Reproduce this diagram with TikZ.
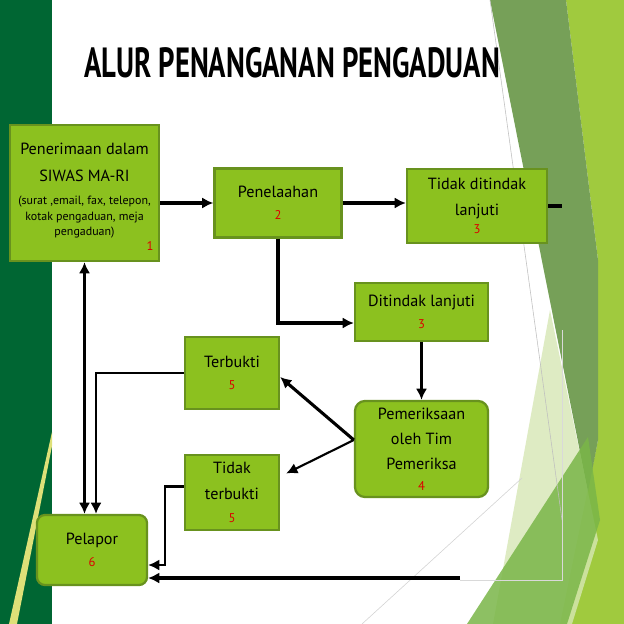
\documentclass[tikz,border=0pt]{standalone}
\usepackage{fontspec}
\setmainfont{PT Sans}
\usetikzlibrary{arrows.meta,positioning}

\definecolor{boxfill}{RGB}{140,193,31}
\definecolor{boxedge}{RGB}{104,146,30}
\definecolor{leftbar}{RGB}{0,102,51}
\definecolor{stripe}{RGB}{222,224,120}
\definecolor{numred}{RGB}{220,0,0}
\definecolor{bandgreen}{RGB}{118,160,88}
\definecolor{lime}{RGB}{160,202,62}
\definecolor{palegreen}{RGB}{214,231,180}
\definecolor{midgreen}{RGB}{122,182,72}

\newcommand{\nr}[1]{{\color{numred}\fontsize{9}{11}\selectfont #1}}
\newcommand{\sm}[1]{{\fontsize{8.5}{11}\selectfont #1}}

\begin{document}
\begin{tikzpicture}[x=0.025cm,y=-0.025cm,>=Latex,
  box/.style={draw=boxedge,fill=boxfill,line width=1.6pt,align=center,inner sep=2pt,font=\fontsize{11.5}{18}\selectfont},
  num/.style={text=numred,font=\fontsize{9}{11}\selectfont,inner sep=0pt},
  arr/.style={-{Latex[length=2.8mm,width=2.8mm]},line width=2.2pt},
  arrboth/.style={{Latex[length=2.8mm,width=2.8mm]}-{Latex[length=2.8mm,width=2.8mm]},line width=1.8pt}]
% slide background
\fill[white] (0,0) rectangle (624,624);
\useasboundingbox (0,0) rectangle (624,624);
\fill[leftbar] (0,0) rectangle (52,624);
\fill[stripe] (52,432) -- (52,446) -- (17,624) -- (9,624) -- cycle;
\fill[lime] (566,0) -- (624,0) -- (624,624) -- (560,624) -- (598,440) -- (598,260) -- cycle;
\fill[bandgreen] (490,0) -- (566,0) -- (598,260) -- (598,440) -- (588,492) -- cycle;
\fill[palegreen,opacity=.8] (493,624) -- (550,310) -- (598,540) -- (572,624) -- cycle;
\fill[midgreen,opacity=.85] (467,624) -- (588,437) -- (600,520) -- (567,624) -- cycle;
\draw[gray!50,thin] (490,0) -- (562,520);
\draw[gray!30,thin] (460,580) -- (562,580) -- (562,330);
\draw[gray!35,thin] (362,624) -- (522,478);

\node[font=\fontsize{30}{30}\selectfont\bfseries] (title) at (292,63) {\scalebox{0.68}[1]{ALUR PENANGANAN PENGADUAN}};

% boxes
\node[box,minimum width=3.725cm,minimum height=3.4cm] (b1) at (84.5,193) {Penerimaan dalam\\[1pt]SIWAS MA-RI\\[-1.6pt]\sm{(surat ,email, fax, telepon,}\\[-7pt]\sm{kotak pengaduan, meja}\\[-7pt]\sm{pengaduan)}\\[-13pt]\mbox{}};
\node[num] (n1) at (150,246) {1};
\node[box,minimum width=3.175cm,minimum height=1.725cm] (b2) at (278,203) {Penelaahan\\[-2pt]\nr{2}};
\node[box,minimum width=3.5cm,minimum height=1.85cm] (b3a) at (477,206) {Tidak ditindak\\lanjuti\\[-5pt]\nr{3}};
\node[box,minimum width=3.325cm,minimum height=1.45cm] (b3b) at (421.5,312) {Ditindak lanjuti\\[-2pt]\nr{3}};
\node[box,rounded corners=0.25cm,minimum width=3.325cm,minimum height=2.4cm] (b4) at (421.5,449) {Pemeriksaan\\oleh Tim\\Pemeriksa\\[-3.5pt]\nr{4}};
\node[box,minimum width=2.35cm,minimum height=1.8cm] (b5a) at (232,373) {Terbukti\\[-2pt]\nr{5}};
\node[box,minimum width=2.35cm,minimum height=1.875cm] (b5b) at (232,492.5) {Tidak\\terbukti\\[-1.5pt]\nr{5}};
\node[box,rounded corners=0.2cm,minimum width=2.75cm,minimum height=1.75cm] (b6) at (92,550) {Pelapor\\[-2pt]\nr{6}};
\coordinate (b3stub) at (562,206);
\coordinate (fromright) at (460,578);

% connectors
\draw[arr] (b2.west -| b1.east) -- (b2.west);
\draw[arr] (b2.east) -- (b2.east -| b3a.west);
\draw[line width=2.2pt] (b3a.east) -- (b3stub);
\draw[arr] (b2.south) |- ([yshift=-2.75mm]b3b.west);
\draw[arr] (b3b.south) -- (b4.north);
\draw[arr] ([yshift=2.25mm]b4.west) -- ([yshift=-1mm]b5a.east);
\draw[arr,line width=1.5pt] ([yshift=2.25mm]b4.west) -- ([xshift=1.5mm,yshift=4.75mm]b5b.east);
\draw[arr,line width=1.8pt] (b5a.west) -| ([xshift=1mm]b6.north);
\draw[arrboth] (b1.south) -- (b1.south |- b6.north);
\draw[arr,line width=1.8pt] ([yshift=1.5mm]b5b.west) -- ++(-19,0) |- ([yshift=-3.75mm]b6.east);
\draw[arr] (fromright) -- (fromright -| b6.east);
\end{tikzpicture}
\end{document}
